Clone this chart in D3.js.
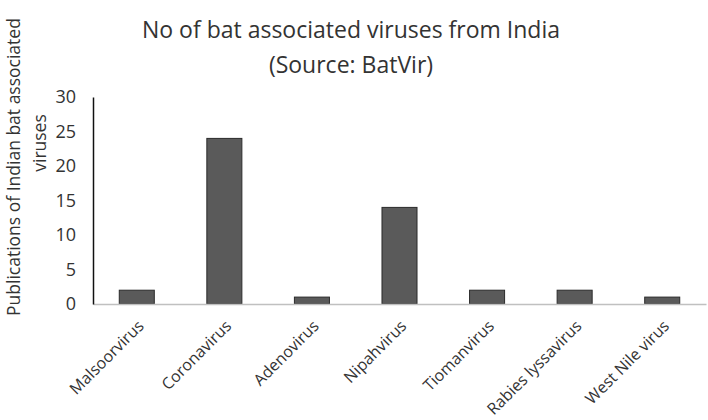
<!DOCTYPE html>
<html>
<head>
<meta charset="utf-8">
<script src="https://cdn.jsdelivr.net/npm/d3@7"></script>
<style>
  body { margin: 0; background: #fff; }
  svg { display: block; font-family: "Open Sans", "Noto Sans", sans-serif; }
</style>
</head>
<body>
<svg id="chart" width="708" height="420"></svg>
<script>
// data
const viruses = ["Malsoorvirus", "Coronavirus", "Adenovirus", "Nipahvirus",
                 "Tiomanvirus", "Rabies lyssavirus", "West Nile virus"]
const publications = [2, 24, 1, 14, 2, 2, 1]
const yTicks = [0, 5, 10, 15, 20, 25, 30]

const width = 708, height = 420
const margin = {top: 97, right: 2, bottom: 116, left: 93}

const svg = d3.select('#chart')

const x = d3.scaleBand()
  .domain(viruses)
  .range([margin.left, width - margin.right])
  .paddingInner(0.6)
  .paddingOuter(0.3)

const y = d3.scaleLinear()
  .domain([0, 30])
  .range([height - margin.bottom, margin.top])

// title
svg.append('text')
  .attr('x', 351).attr('y', 38)
  .attr('text-anchor', 'middle')
  .style('font-size', '23px').style('fill', '#333')
  .text('No of bat associated viruses from India')
svg.append('text')
  .attr('x', 351).attr('y', 73)
  .attr('text-anchor', 'middle')
  .style('font-size', '23px').style('fill', '#333')
  .text('(Source: BatVir)')

// bars
svg.selectAll('rect.bar')
  .data(viruses)
  .enter()
  .append('rect')
  .attr('class', 'bar')
  .attr('x', d => x(d))
  .attr('width', x.bandwidth())
  .attr('y', (d, i) => y(publications[i]))
  .attr('height', (d, i) => y(0) - y(publications[i]))
  .style('fill', '#5a5a5a')
  .style('stroke', '#2b2b2b')
  .style('stroke-width', 1)

// x axis
const xAxis = svg.append('g')
  .attr('transform', `translate(0,${y(0)})`)
  .call(d3.axisBottom(x).tickSize(0).tickPadding(0))
xAxis.select('.domain').attr('stroke', '#c0c0c0').attr('stroke-width', 1.5)
xAxis.selectAll('text')
  .attr('text-anchor', 'end')
  .attr('dy', 0)
  .attr('transform', d => `translate(8,23) rotate(-45)`)
  .style('font-size', '16px').style('fill', '#333')
  .style('font-family', '"Open Sans", "Noto Sans", sans-serif')

// y axis
const yAxis = svg.append('g')
  .attr('transform', `translate(${margin.left},0)`)
  .call(d3.axisLeft(y).tickValues(yTicks).tickSize(0).tickPadding(17))
yAxis.select('.domain').attr('stroke', '#111').attr('stroke-width', 1.5)
yAxis.selectAll('text')
  .style('font-size', '18px').style('fill', '#333')
  .style('font-family', '"Open Sans", "Noto Sans", sans-serif')

// y axis title (two lines)
svg.append('text')
  .attr('transform', 'translate(20,316) rotate(-90)')
  .attr('text-anchor', 'start')
  .style('font-size', '17.5px').style('fill', '#333')
  .text('Publications of Indian bat associated')
svg.append('text')
  .attr('transform', 'translate(46,143) rotate(-90)')
  .attr('text-anchor', 'middle')
  .style('font-size', '17.5px').style('fill', '#333')
  .text('viruses')
</script>
</body>
</html>
